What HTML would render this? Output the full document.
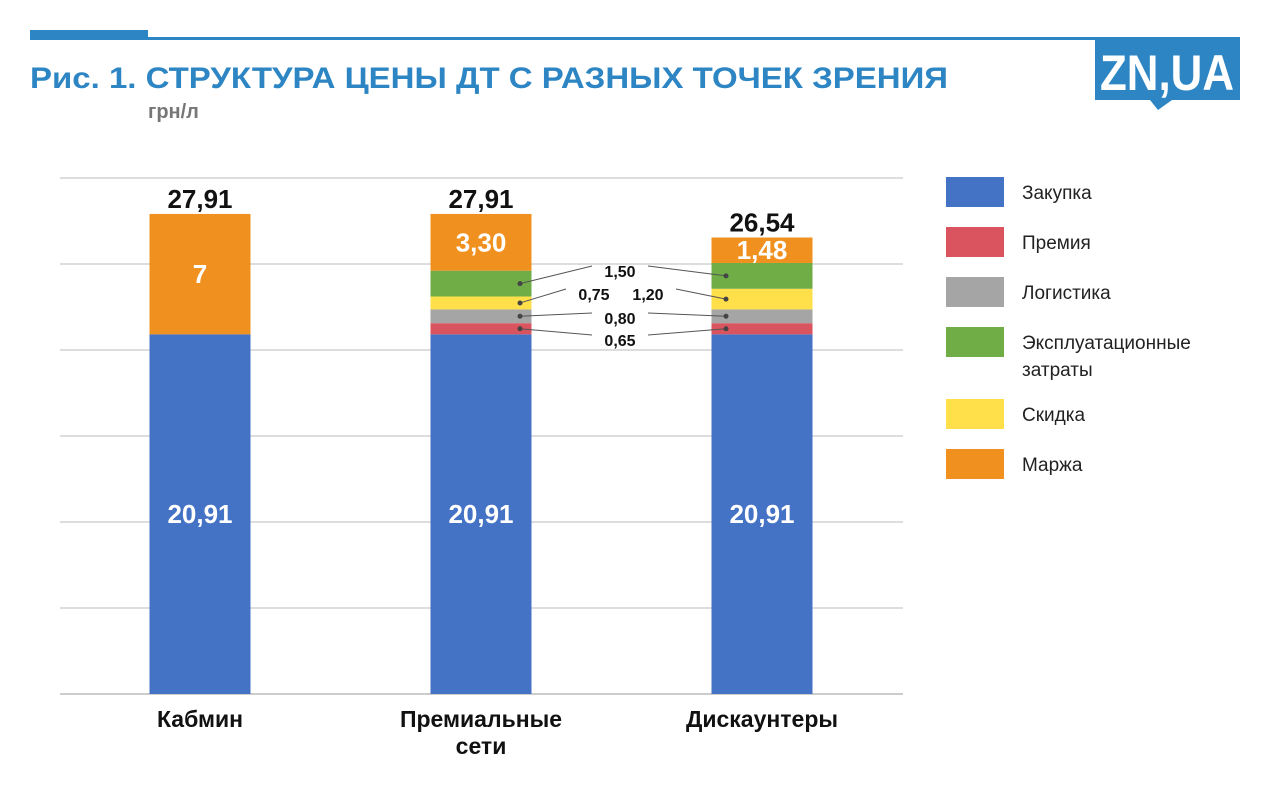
<!DOCTYPE html>
<html><head><meta charset="utf-8"><style>
body{margin:0;background:#fff;width:1280px;height:788px;overflow:hidden}
svg{display:block}
text{font-family:"Liberation Sans","DejaVu Sans",sans-serif}
</style></head><body>
<svg id="c" width="1280" height="788">
<rect x="30" y="30" width="118" height="10" fill="#2d86c3"/>
<rect x="30" y="37" width="1210" height="3" fill="#2d86c3"/>
<text x="30" y="88" font-size="30" font-weight="bold" fill="#2d86c3" textLength="918" lengthAdjust="spacingAndGlyphs">Рис. 1. СТРУКТУРА ЦЕНЫ ДТ С РАЗНЫХ ТОЧЕК ЗРЕНИЯ</text>
<text x="148" y="118" font-size="20" font-weight="bold" fill="#777">грн/л</text>
<g>
<rect x="1095" y="40" width="145" height="60" fill="#2d86c3"/>
<polygon points="1150,100 1172,100 1158,110" fill="#2d86c3"/>
<text x="1167" y="90" font-size="50" font-weight="bold" fill="#fff" text-anchor="middle" textLength="134" lengthAdjust="spacingAndGlyphs">ZN,UA</text>
</g>
<g id="plot"></g>
</svg>
<script>
const categories=["Кабмин","Премиальные|сети","Дискаунтеры"];
const seriesNames=["Закупка","Премия","Логистика","Эксплуатационные|затраты","Скидка","Маржа"];
const legendColors=["#4472c4","#d9545f","#a5a5a5","#70ad47","#ffdf4a","#f0901e"];
const zakupka=[20.91,20.91,20.91];
const premia=[0,0.65,0.65];
const logistika=[0,0.80,0.80];
const skidka=[0,0.75,1.20];
const expl=[0,1.50,1.50];
const marzha=[7,3.30,1.48];
const totals=["27,91","27,91","26,54"];
const yTicks=[0,5,10,15,20,25,30];
// stacking order bottom→top
const series=[zakupka,premia,logistika,skidka,expl,marzha];
const colors=["#4472c4","#d9545f","#a5a5a5","#ffdf4a","#70ad47","#f0901e"];
const NS="http://www.w3.org/2000/svg";
const g=document.getElementById('plot');
const y=v=>694-v*17.2;
const xc=i=>200+i*281;
const bw=101;
function mk(t,a,p){const e=document.createElementNS(NS,t);for(const k in a)e.setAttribute(k,a[k]);(p||g).appendChild(e);return e;}
const fmt=v=>(Number.isInteger(v)?String(v):v.toFixed(2)).replace('.',',');
yTicks.forEach(t=>{const l=mk('line',{x1:60,x2:903,y1:y(t),y2:y(t),stroke:t==0?'#999':'#bbb','stroke-width':1});

});
const mids=[];
categories.forEach((c,i)=>{let acc=0;mids[i]=[];
series.forEach((s,k)=>{const v=s[i];if(v>0){const r=mk('rect',{x:xc(i)-bw/2,y:y(acc+v),width:bw,height:y(acc)-y(acc+v),fill:colors[k]});

}
mids[i][k]=y(acc+v/2);acc+=v;});
const inB=[0,5];
inB.forEach(k=>{const v=series[k][i];if(v<=0)return;const t=mk('text',{x:xc(i),y:mids[i][k]+9,'text-anchor':'middle','font-size':26,'font-weight':'bold',fill:'#fff'});t.textContent=fmt(v);

});
const tt=mk('text',{x:xc(i),y:y(acc)-6,'text-anchor':'middle','font-size':26,'font-weight':'bold',fill:'#111'});tt.textContent=totals[i];


c.split('|').forEach((ln,j)=>{const t=mk('text',{x:xc(i),y:727+j*27,'text-anchor':'middle','font-size':23,'font-weight':'bold',fill:'#111'});t.textContent=ln;

});
});
const lbl=[[4,620,271,620,271],[3,594,294,648,294],[2,620,318,620,318],[1,620,340,620,340]];
lbl.forEach(([k,lx1,ly1,lx2,ly2])=>{
const a=fmt(series[k][1]),b=fmt(series[k][2]);
const x1=xc(1)+39,x2=xc(2)-36;
mk('line',{x1:x1,y1:mids[1][k],x2:lx1-28,y2:ly1-5,stroke:'#555','stroke-width':1});
mk('line',{x1:x2,y1:mids[2][k],x2:lx2+28,y2:ly2-5,stroke:'#555','stroke-width':1});
mk('circle',{cx:x1,cy:mids[1][k],r:2.5,fill:'#444'});mk('circle',{cx:x2,cy:mids[2][k],r:2.5,fill:'#444'});
const txt=a===b?[[a,lx1]]:[[a,lx1],[b,lx2]];
txt.forEach(([s,x])=>{const t=mk('text',{x:x,y:ly1+6,'text-anchor':'middle','font-size':16,'font-weight':'bold',fill:'#111'});t.textContent=s;

});
});
seriesNames.forEach((n,k)=>{const yy=192+k*50+(k>3?22:0);
const r=mk('rect',{x:946,y:yy-15,width:58,height:30,fill:legendColors[k]});


n.split('|').forEach((ln,j)=>{const t=mk('text',{x:1022,y:yy+7+j*27,'font-size':19,fill:'#222'});t.textContent=ln;

});
});
</script>
</body></html>
